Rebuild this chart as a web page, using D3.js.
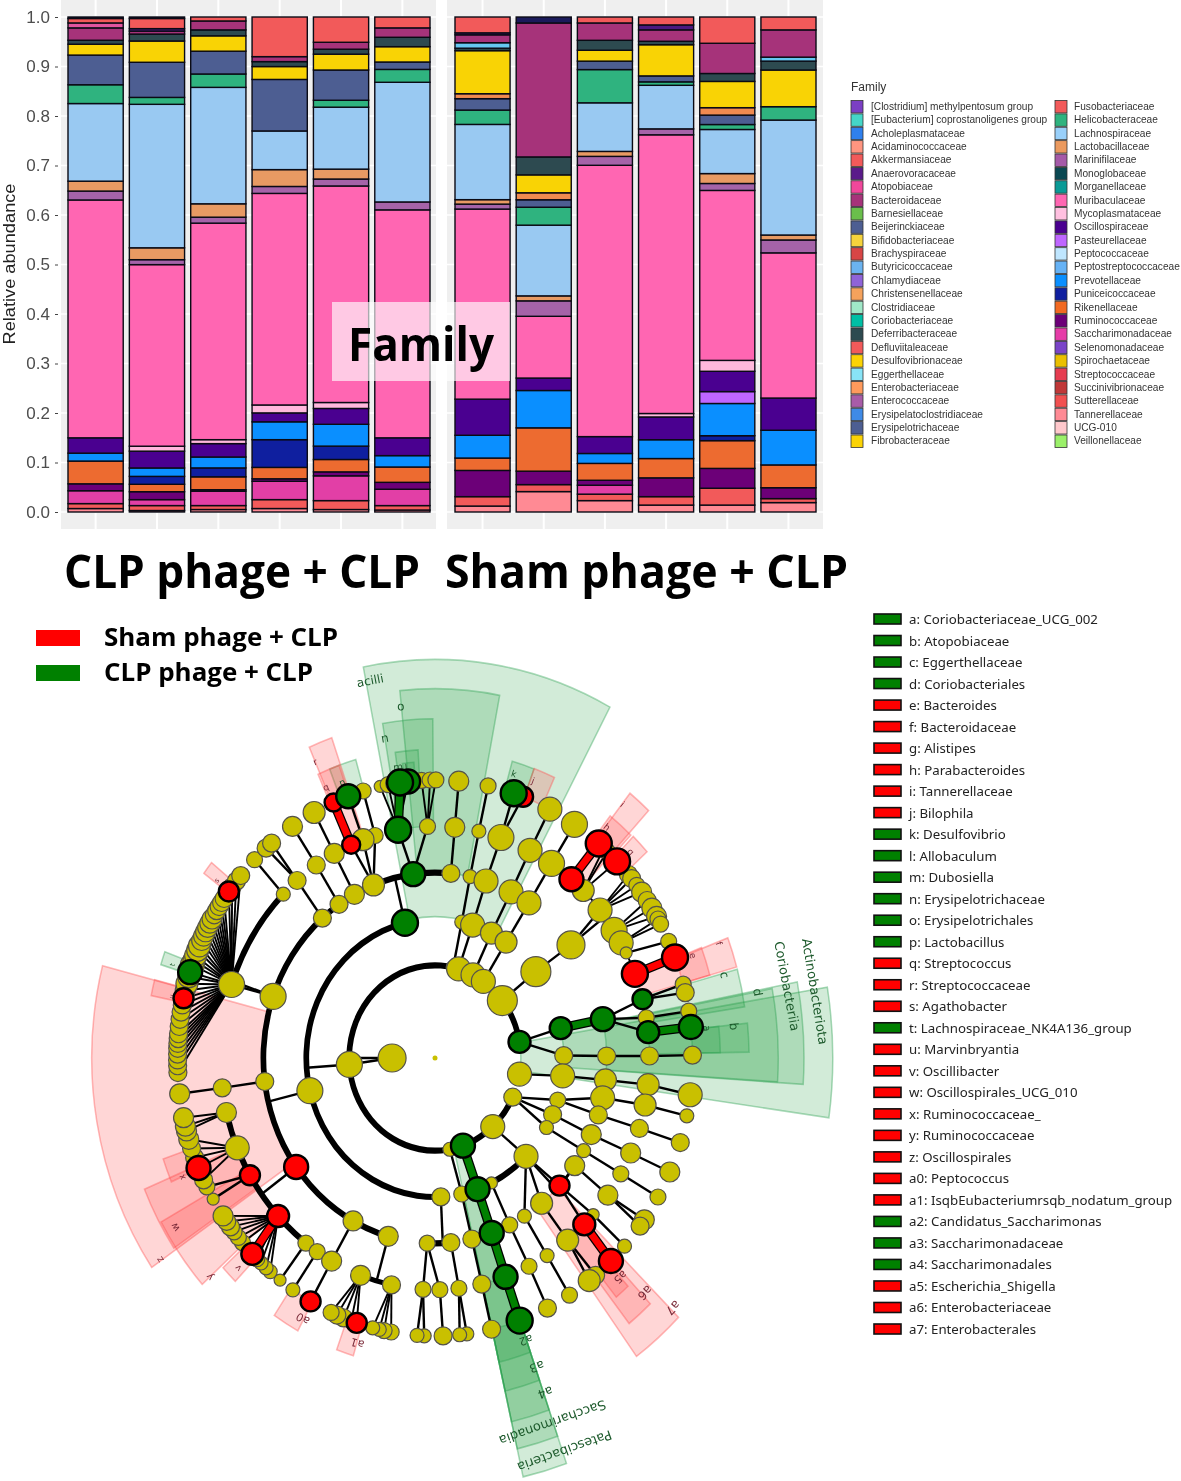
<!DOCTYPE html>
<html><head><meta charset="utf-8">
<script src="https://cdn.jsdelivr.net/npm/d3@7/dist/d3.min.js"></script>
<style>html,body{margin:0;padding:0;background:#fff}svg{display:block;filter:blur(.35px)}</style>
</head><body><svg id="c" width="1181" height="1481"></svg>
<script>
// ---------- stacked bars (first series sits on top of the stack) ----------
const samples=['C1','C2','C3','C4','C5','C6','S1','S2','S3','S4','S5','S6'];
const leftSamples=samples.slice(0,6), rightSamples=samples.slice(6);
const yTicks=[0,.1,.2,.3,.4,.5,.6,.7,.8,.9,1];
const seriesNames=['topDark','Akkermansiaceae','Anaerovoracaceae','Atopobiaceae','Bacteroidaceae','Eggerthellaceae','Deferribacteraceae','Desulfovibrionaceae','Enterobacteriaceae','Erysipelotrichaceae','Helicobacteraceae','Lachnospiraceae','Lactobacillaceae','Marinifilaceae','Muribaculaceae','Mycoplasmataceae','Oscillospiraceae','Pasteurellaceae','Prevotellaceae','Puniceicoccaceae','Rikenellaceae','Ruminococcaceae','Saccharimonadaceae','Sutterellaceae','Tannerellaceae'];
const seriesColors=['#1a1a5a','#f25a5a','#4b1a80','#e0559f','#a6337a','#66c8f2','#2d4a50','#f9d305','#f08a50','#4d5e92','#2fb37f','#99c9f2','#e89a63','#a563a8','#ff66b2','#ffb8dc','#4a0090','#bf66ff','#0a8fff','#0f1f9f','#ed6b30','#6c0078','#e23fa6','#f25a5a','#ff8a94'];
const topDark=[.003,.003,0,0,0,0,0,.012,0,0,0,0];
const akker=[.009,.0205,.008,.08,.051,.022,.032,0,.012,.016,.053,.026];
const anaero=[0,.005,0,0,0,0,.004,0,0,.01,0,0];
const atopo=[.01,0,0,0,0,0,0,0,0,0,0,0];
const bacteroid=[.025,.006,.018,.01,.014,.019,.016,.269,.035,.023,.061,.055];
const eggerth=[0,0,0,0,0,0,.011,0,0,0,0,.008];
const deferri=[.008,.014,.012,.01,.01,.019,.005,.036,.02,.007,.016,.018];
const desulfo=[.022,.043,.031,.026,.032,.031,.087,.036,.022,.063,.053,.074];
const enterob=[0,0,0,0,0,0,.01,.014,0,0,.015,0];
const erysip=[.06,.071,.046,.104,.061,.015,.023,.015,.017,.012,.019,0];
const helico=[.038,.014,.027,0,.014,.026,.029,.036,.067,.007,.01,.027];
const lachno=[.157,.29,.235,.078,.125,.242,.152,.142,.098,.088,.089,.232];
const lacto=[.02,.024,.027,.034,.02,0,.009,.01,.01,0,.02,.01];
const marini=[.018,.01,.012,.014,.014,.016,.01,.031,.018,.012,.014,.026];
const muri=[.481,.367,.437,.427,.437,.461,.384,.124,.547,.563,.343,.293];
const myco=[0,.01,.008,.016,.012,0,0,0,0,.007,.022,0];
const oscillo=[.031,.034,.027,.018,.032,.036,.073,.025,.034,.046,.041,.065];
const pasteur=[0,0,0,0,0,0,0,0,0,0,.024,0];
const prevot=[.016,.017,.022,.036,.044,.023,.046,.075,.02,.038,.065,.07];
const punicei=[0,.016,.018,.056,.027,0,0,0,0,0,.01,0];
const rikenel=[.046,.015,.026,.023,.025,.031,.025,.087,.034,.039,.056,.046];
const rumino=[.014,.016,.003,.005,.008,.014,.053,.027,.01,.038,.04,.022];
const sacchar=[.026,.012,.029,.037,.05,.033,0,0,.018,0,0,0];
const sutter=[.01,.01,.008,.018,.018,.009,.019,.014,.013,.017,.034,.008];
const tanner=[.007,.003,.005,.007,.005,.004,.012,.041,.023,.014,.014,.019];
const seriesValues=[topDark,akker,anaero,atopo,bacteroid,eggerth,deferri,desulfo,enterob,erysip,helico,lachno,lacto,marini,muri,myco,oscillo,pasteur,prevot,punicei,rikenel,rumino,sacchar,sutter,tanner];

// ---------- family legend ----------
const familyCol1=['[Clostridium] methylpentosum group','[Eubacterium] coprostanoligenes group','Acholeplasmataceae','Acidaminococcaceae','Akkermansiaceae','Anaerovoracaceae','Atopobiaceae','Bacteroidaceae','Barnesiellaceae','Beijerinckiaceae','Bifidobacteriaceae','Brachyspiraceae','Butyricicoccaceae','Chlamydiaceae','Christensenellaceae','Clostridiaceae','Coriobacteriaceae','Deferribacteraceae','Defluviitaleaceae','Desulfovibrionaceae','Eggerthellaceae','Enterobacteriaceae','Enterococcaceae','Erysipelatoclostridiaceae','Erysipelotrichaceae','Fibrobacteraceae'];
const familyCol2=['Fusobacteriaceae','Helicobacteraceae','Lachnospiraceae','Lactobacillaceae','Marinifilaceae','Monoglobaceae','Morganellaceae','Muribaculaceae','Mycoplasmataceae','Oscillospiraceae','Pasteurellaceae','Peptococcaceae','Peptostreptococcaceae','Prevotellaceae','Puniceicoccaceae','Rikenellaceae','Ruminococcaceae','Saccharimonadaceae','Selenomonadaceae','Spirochaetaceae','Streptococcaceae','Succinivibrionaceae','Sutterellaceae','Tannerellaceae','UCG-010','Veillonellaceae'];
const familyCol1Colors=['#7b3fc4','#45d6c8','#2f80ee','#ff9580','#f25a5a','#5a1a8a','#f0479b','#a6337a','#6abf4b','#4d5e92','#f5d33c','#d84545','#6bb3f0','#8f63d8','#f5a25c','#a0e8c8','#00bfa5','#2d4a50','#f25a5a','#fbd305','#88e4f7','#ff9a5c','#a85ca8','#3f8ae6','#4d5e92','#fbd305'];
const familyCol2Colors=['#f25a5a','#2fb37f','#99d0fa','#eb9a5f','#a55aa8','#0a4852','#0a9a96','#ff66b2','#ffc0e0','#4a0090','#bf66ff','#bfe6ff','#66b2f5','#0a8fff','#0f1f9f','#f26a22','#6c0078','#e63ca8','#7a44c8','#eac000','#e63c50','#c03838','#f25050','#ff8a94','#ffc8cc','#9bf06a'];

// ---------- biomarker legend ----------
const biomarkerLabels=['a: Coriobacteriaceae_UCG_002','b: Atopobiaceae','c: Eggerthellaceae','d: Coriobacteriales','e: Bacteroides','f: Bacteroidaceae','g: Alistipes','h: Parabacteroides','i: Tannerellaceae','j: Bilophila','k: Desulfovibrio','l: Allobaculum','m: Dubosiella','n: Erysipelotrichaceae','o: Erysipelotrichales','p: Lactobacillus','q: Streptococcus','r: Streptococcaceae','s: Agathobacter','t: Lachnospiraceae_NK4A136_group','u: Marvinbryantia','v: Oscillibacter','w: Oscillospirales_UCG_010','x: Ruminococcaceae_','y: Ruminococcaceae','z: Oscillospirales','a0: Peptococcus','a1: IsqbEubacteriumrsqb_nodatum_group','a2: Candidatus_Saccharimonas','a3: Saccharimonadaceae','a4: Saccharimonadales','a5: Escherichia_Shigella','a6: Enterobacteriaceae','a7: Enterobacterales'];
const biomarkerKinds=['g','g','g','g','r','r','r','r','r','r','g','g','g','g','g','g','r','r','r','g','r','r','r','r','r','r','r','r','g','g','g','r','r','r'];

// ---------- cladogram: level is the taxonomic ring, angle is degrees clockwise from north ----------
// [id, parent, level, angle, size, kind, link]; link: n thin, f fan, G/R coloured thick, '' none
const phylumNodes=[['K',null,1,270,14,'y',''],['A','K',2,266,13,'y','n'],['B1',null,2,12.2,7,'y',''],['B2',null,2,16,12,'y',''],['B3',null,2,26.3,12,'y',''],['B4',null,2,34.3,12,'y',''],['B5',null,2,51.7,15,'y',''],['B6',null,2,80,11,'g',''],['B7',null,2,100,12,'y',''],['B8',null,2,115,9,'y',''],['B9',null,2,137.7,12,'y',''],['B10',null,2,161,12,'g',''],['B11',null,2,170,7,'y','']];
const classNodes=[['C1',null,3,346.5,13,'g',''],['C2',null,3,256.4,13,'y',''],['C3',null,3,177.4,9,'y',''],['C4','B1',3,12,7,'y','n'],['C5','B2',3,17,12,'y','n'],['C6','B3',3,26,11,'y','n'],['C7','B4',3,33.5,11,'y','n'],['C8','B5',3,51.6,15,'y','n'],['C9','B6',3,77.6,11,'g','n'],['C10','B6',3,89,9,'y','n'],['C11','B7',3,97.4,12,'y','n'],['C12','B8',3,107.6,8,'y','n'],['C13','B8',3,114,9,'y','n'],['C14','B8',3,120,7,'y','n'],['C15','B9',3,135,12,'y','n'],['C16',null,3,154,6,'y',''],['C17','B10',3,160.7,12,'g','G'],['C18','B11',3,168,8,'y','n']];
const orderNodes=[['D1',null,4,352.7,12,'g',''],['D2',null,4,5.3,9,'y',''],['D3',null,4,339,11,'y',''],['D4',null,4,332,10,'y',''],['D5',null,4,326,9,'y',''],['D6',null,4,319,9,'y',''],['D7',null,4,289.4,13,'y',''],['D8',null,4,262.7,9,'y',''],['D9',null,4,234,12,'r',''],['D10',null,4,208.5,10,'y',''],['D11',null,4,195.8,10,'y',''],['D12',null,4,182.6,8,'y',''],['D13',null,4,174.7,9,'y',''],['D14','C4',4,11.8,7,'y','n'],['D15','C5',4,17.3,12,'y','n'],['D16','C6',4,26.3,12,'y','n'],['D17','C7',4,33.2,12,'y','n'],['D18','C8',4,52.4,14,'y','n'],['D19','C9',4,77.9,12,'g','G'],['D20','C10',4,89.4,9,'y','n'],['D21','C11',4,96.8,11,'y','n'],['D22','C12',4,102.4,12,'y','n'],['D23','C12',4,107.9,9,'y','n'],['D24','C13',4,114.4,10,'y','n'],['D25','C14',4,120,7,'y','n'],['D26',null,4,125.5,10,'y',''],['D27','C15',4,133.5,10,'r','n'],['D28','C15',4,141.6,11,'y','n'],['D29','C15',4,148.6,7,'y','n'],['D30','C16',4,154.2,8,'y','n'],['D31','C17',4,160.7,12,'g','G'],['D32','C18',4,167.6,9,'y','n']];
const familyNodes=[['E1','D1',5,350.1,13,'g','n'],['E2','D1',5,358,8,'y','n'],['E3','D2',5,5.3,10,'y','n'],['E4','D3',5,343.8,8,'y','n'],['E5','D3',5,340.4,11,'y','n'],['E6','D3',5,337,9,'r','n'],['E7','D4',5,332,10,'y','n'],['E8','D5',5,326.4,9,'y','n'],['E9','D6',5,320,9,'y','n'],['E10',null,5,315,7,'y',''],['E11','D7',5,288.5,13,'y','n'],['E12','D8',5,262.6,9,'y','n'],['E13',null,5,256.4,10,'y',''],['E14',null,5,247.2,12,'y',''],['E15',null,5,239.6,10,'r',''],['E16',null,5,227,11,'r',''],['E17',null,5,217,8,'y',''],['E18',null,5,213.3,8,'y',''],['E19','D10',5,208.8,10,'y','n'],['E20',null,5,200.3,10,'y',''],['E21',null,5,191.7,9,'y',''],['E22','D12',5,183.2,8,'y','n'],['E23','D12',5,178.7,8,'y','n'],['E24','D13',5,173.6,8,'y','n'],['E25','D14',5,11.8,7,'y','n'],['E26','D15',5,17.9,13,'y','n'],['E27','D16',5,26.3,12,'y','n'],['E28','D17',5,32.9,13,'y','n'],['E29',null,5,39.5,12,'r',''],['E30',null,5,43.7,11,'y',''],['E31','D18',5,50.3,12,'y','n'],['E32',null,5,56.6,13,'y',''],['E33',null,5,60.2,12,'y',''],['E34',null,5,63,6,'y',''],['E35',null,5,68.7,13,'r',''],['E36','D19',5,75.3,10,'g','n'],['E37','D19',5,80,8,'y','n'],['E38','D19',5,83.6,11,'g','n'],['E39','D20',5,89.5,9,'y','n'],['E40','D21',5,96.6,11,'y','n'],['E41','D22',5,101.7,11,'y','n'],['E42','D23',5,107.7,9,'y','n'],['E43','D24',5,114.2,10,'y','n'],['E44','D25',5,120,8,'y','n'],['E45','D26',5,126.3,10,'y','n'],['E46','D27',5,132.5,6,'y','n'],['E47','D27',5,135.9,11,'r','n'],['E48','D28',5,141.8,11,'y','n'],['E49','D29',5,148.5,7,'y','n'],['E50','D30',5,154,8,'y','n'],['E51','D31',5,160.8,12,'g','G'],['E52','D32',5,167.4,9,'y','n']];
const genusNodes=[[null,'E1',6,347.7,6,'y','f'],[null,'E1',6,349.5,8,'y','f'],[null,'E1',6,351,9,'y','f'],[null,'E1',6,354,12,'g','f'],[null,'E1',6,352.2,13,'g','G'],[null,'E2',6,357,8,'y','f'],[null,'E2',6,358.9,8,'y','f'],[null,'E2',6,.2,8,'y','f'],[null,'E3',6,5.3,10,'y','n'],[null,'E25',6,11.9,8,'y','n'],[null,'E26',6,20,10,'r','n'],[null,'E26',6,17.8,13,'g','n'],[null,'E27',6,26.5,12,'y','n'],[null,'E28',6,32.8,13,'y','n'],[null,'E29',6,39.5,13,'r','R'],[null,'E30',6,41,8,'y','f'],[null,'E30',6,42,8,'y','f'],[null,'E30',6,45,13,'r','f'],[null,'E31',6,48.7,9,'y','f'],[null,'E31',6,49.8,9,'y','f'],[null,'E31',6,51.6,8,'y','f'],[null,'E31',6,53.4,10,'y','f'],[null,'E32',6,55.5,9,'y','f'],[null,'E32',6,57.4,10,'y','f'],[null,'E32',6,59.4,10,'y','f'],[null,'E33',6,60,8,'y','f'],[null,'E33',6,61.2,8,'y','f'],[null,'E34',6,65.2,8,'y','n'],[null,'E35',6,68.8,13,'r','R'],[null,'E36',6,74.6,8,'y','n'],[null,'E36',6,76.4,9,'y','n'],[null,'E37',6,80.3,8,'y','n'],[null,'E38',6,83.6,12,'g','G'],[null,'E39',6,89.4,9,'y','n'],[null,'E40',6,97.6,12,'y','n'],[null,'E41',6,102,7,'y','n'],[null,'E42',6,107.7,9,'y','n'],[null,'E43',6,114.2,10,'y','n'],[null,'E44',6,120,8,'y','n'],[null,'E45',6,125.6,10,'y','n'],[null,'E45',6,127.2,9,'y','n'],[null,'E46',6,132.6,7,'y','n'],[null,'E47',6,136.9,12,'r','R'],[null,'E48',6,141.4,9,'y','n'],[null,'E48',6,143.2,11,'y','n'],[null,'E49',6,148.5,8,'y','n'],[null,'E50',6,154.1,9,'y','n'],[null,'E51',6,160.8,13,'g','G'],[null,'E52',6,167.3,9,'y','n'],[null,'E24',6,172.9,7,'y','n'],[null,'E24',6,174.5,7,'y','n'],[null,'E23',6,178.2,9,'y','n'],[null,'E22',6,182.4,7,'y','n'],[null,'E22',6,184,7,'y','n'],[null,'E21',6,189.8,8,'y','f'],[null,'E21',6,191.4,8,'y','f'],[null,'E21',6,192.5,7,'y','f'],[null,'E21',6,194,7,'y','f'],[null,'E20',6,197.7,10,'r','f'],[null,'E20',6,199,8,'y','f'],[null,'E20',6,200.8,9,'y','f'],[null,'E20',6,202.4,9,'y','f'],[null,'E20',6,203.8,8,'y','f'],[null,'E19',6,208.9,10,'r','n'],[null,'E18',6,213.5,7,'y','n'],[null,'E17',6,217,6,'y','n'],[null,'E16',6,219.8,7,'y','f'],[null,'E16',6,221,7,'y','f'],[null,'E16',6,222.5,7,'y','f'],[null,'E16',6,223.8,8,'y','f'],[null,'E16',6,225.2,11,'r','R'],[null,'E16',6,228.4,8,'y','f'],[null,'E16',6,229.8,8,'y','f'],[null,'E16',6,231.3,8,'y','f'],[null,'E16',6,232.6,9,'y','f'],[null,'E16',6,234,9,'y','f'],[null,'E16',6,235.4,10,'y','f'],[null,'E15',6,239.5,6,'y','n'],[null,'E15',6,242.4,8,'y','n'],[null,'E14',6,244,9,'y','f'],[null,'E14',6,246.7,12,'r','f'],[null,'E14',6,249,9,'y','f'],[null,'E14',6,251,9,'y','f'],[null,'E14',6,253,10,'y','f'],[null,'E13',6,254.8,10,'y','f'],[null,'E13',6,255.8,10,'y','f'],[null,'E13',6,257.6,10,'y','f'],[null,'E12',6,262.6,10,'y','n'],[null,'E10',6,315.5,8,'y','n'],[null,'E9',6,319,9,'y','n'],[null,'E9',6,320.6,9,'y','n'],[null,'E8',6,326.4,10,'y','n'],[null,'E7',6,332,11,'y','n'],[null,'E6',6,336.8,9,'r','R'],[null,'E5',6,340.3,12,'g','n'],[null,'E4',6,343.8,8,'y','n']];
const lachnoFanAngles=[267,268.4,269.6,270.8,272,273,274,275,276.5,278,279.5,281,284,285.5,287,289.5,290.6,291.6,292.8,293.8,295,296,297,298,299,300,301,302,303,304,305,308,309.5,311];
const lachnoFanSizes=[9,9,9,9,9,9,9,9,9,9,9,9,10,11,11,12,11,11,11,11,10,10,10,10,10,10,9,9,9,9,9,9,9,9];
const lachnoFanMarked=[[282.4,10,'r'],[288,12,'g'],[306.8,10,'r']];
// [level, start angle, end angle, stroke width]
const ringArcs=[[2,266,440,6],[2,115,266,6],[3,177.4,346.5,6],[3,135,154,6],[4,195.8,319,6],[4,319,365.3,6],[4,174.7,182.6,6],[4,125.5,133.5,3],[5,208.8,256.4,6],[5,288.5,315,6],[5,39.5,68.7,2],[5,191.7,200.3,5]];
// [node id, level reached by its radial stub]
const radialStubs=[['K',2],['A',3],['C1',4],['C2',4],['C3',4],['C15',4],['D9',5],['D11',5],['D18',5],['D7',5]];
// [label, start, end, inner level, outer level, kind, label level, label angle, font size]
const cladeSectors=[
['acilli',348.8,388.3,3.05,8.6,'g',8.28,349.5,12],['o',354.1,370.9,4,7.97,'g',7.63,354,12],['n',350.4,359.6,5,7.32,'g',7,350.4,12],['m',352,356.6,6,6.66,'g',6.34,352.2,10],['l',353.2,355.6,6,6.4,'g',6.3,353.9,9],
['p',338.5,344,6.05,6.7,'g',6.33,340,9],['q',336,340.5,6,6.7,'r',6.37,336.5,9],['r',336.4,340.8,5,7.32,'r',6.97,336.4,9],
['k',15.7,20.3,5.95,6.65,'g',6.4,16.7,9],['j',20.3,24.7,6,6.66,'r',6.4,20.9,9],
['i',38.5,43,5,7.3,'r',7,38.6,9],['h',38,43.5,6,6.63,'r',6.39,38.8,9],['g',44,48,6.1,6.65,'r',6.37,45.7,9],
['f',69.2,74.4,5,7.3,'r',7.06,69.5,9],['e',69,74.4,6,6.65,'r',6.4,69.8,9],
['Actinobacteriota',80.5,98,2,9.27,'g',8.97,80.8,13],['Coriobacteriia',79,93.8,3,8.6,'g',8.35,79.3,13],['d',79.2,93.7,4,8,'g',7.65,79.3,12],['c',74.8,81.3,5,7.3,'g',6.98,75.1,12],['b',84.1,89,5,7.32,'g',7,84.4,12],['a',84.1,89,6,6.65,'g',6.37,84.2,10],
['Patescibacteria',160.7,167.2,2.2,9.27,'g',9,160.4,13],['Saccharimonadia',160.7,167.2,3,8.65,'g',8.33,160.8,13],['a4',160.7,167.2,4,8.05,'g',7.66,160.4,12],['a3',160.7,167.2,5,7.37,'g',7.07,160.4,12],['a2',160.7,167.2,6,6.73,'g',6.44,160.8,11],
['a7',134.6,143.9,4,7.97,'r',7.73,134.2,12],['a6',136.6,141.7,5,7.3,'r',7.04,136,12],['a5',137.6,140.7,6,6.67,'r',6.4,137.6,11],
['z',235.6,284.4,4,8,'r',7.75,235.8,10],['y',228,241,5,7.3,'r',7.07,228,10],['w',236,247.3,5,7.34,'r',7.07,238.9,10],['x',246.5,251,6,6.7,'r',6.43,246.4,9],['v',224,227.5,6,6.7,'r',6.45,225.3,9],
['a0',208.5,214,6,6.7,'r',6.41,208.7,11],['a1',196.5,200,6,6.7,'r',6.41,196.4,11],['u',281.5,284.5,6,6.75,'r',6.27,282.2,7],['t',287.5,290,6,6.7,'g',6.43,288.2,7],['s',306.5,309,6.05,6.7,'r',6.36,307,7]];

// ---------- headings ----------
const panelHeadings=['CLP phage + CLP','Sham phage + CLP'];
const groupLegend=[['Sham phage + CLP','r'],['CLP phage + CLP','g']];

const svg=d3.select('#c');
const kindFill={y:'#c9c000',g:'#008000',r:'#ff0000'};

// ---------- bar panels ----------
const yScale=d3.scaleLinear().domain([0,1]).range([512,17]);
const stackRows=samples.map((s,i)=>{const r={sample:s};seriesNames.forEach((n,j)=>r[n]=seriesValues[j][i]);return r;});
const stacked=d3.stack().keys(seriesNames.slice().reverse()).offset(d3.stackOffsetExpand)(stackRows);
function panel(list,x0,x1,bandRange){
  const g=svg.append('g');
  g.append('rect').attr('x',x0).attr('y',0).attr('width',x1-x0).attr('height',529).attr('fill','#efefef');
  const x=d3.scaleBand().domain(list).range(bandRange).paddingInner(.1);
  yTicks.forEach(t=>g.append('line').attr('x1',x0).attr('x2',x1).attr('y1',yScale(t)).attr('y2',yScale(t)).attr('stroke','#fff').attr('stroke-width',1.4));
  list.forEach(s=>g.append('line').attr('x1',x(s)+x.bandwidth()/2).attr('x2',x(s)+x.bandwidth()/2).attr('y1',0).attr('y2',529).attr('stroke','#fff').attr('stroke-width',2));
  stacked.forEach(layer=>{
    const i=seriesNames.indexOf(layer.key);
    g.selectAll(null).data(layer.filter(d=>list.includes(d.data.sample)&&d[1]-d[0]>0)).join('rect')
      .attr('x',d=>x(d.data.sample)).attr('width',x.bandwidth())
      .attr('y',d=>yScale(d[1])).attr('height',d=>yScale(d[0])-yScale(d[1]))
      .attr('fill',seriesColors[i]).attr('stroke','#0a0a14').attr('stroke-width',1.4);
  });
}
panel(leftSamples,61,436,[68,430]);
panel(rightSamples,447,823,[455,816]);
const yAxis=svg.append('g').attr('transform','translate(58,0)').call(d3.axisLeft(yScale).tickValues(yTicks).tickFormat(d3.format('.1f')).tickSize(3).tickPadding(5));
yAxis.select('.domain').remove();
yAxis.selectAll('text').attr('font-family','Liberation Sans').attr('font-size',17).attr('fill','#4d4d4d');
yAxis.selectAll('line').attr('stroke','#444');
svg.append('text').attr('transform','translate(15,264) rotate(-90)').attr('text-anchor','middle').attr('font-family','Liberation Sans').attr('font-size',17).attr('textLength',161).attr('lengthAdjust','spacingAndGlyphs').attr('fill','#222').text('Relative abundance');

// Family overlay and headings
svg.append('rect').attr('x',332).attr('y',302).attr('width',178).attr('height',79).attr('fill','#fff').attr('fill-opacity',.65);
svg.append('text').attr('x',421).attr('y',361).attr('text-anchor','middle').attr('font-family','Open Sans').attr('font-weight',700).attr('font-size',46).attr('textLength',146).attr('lengthAdjust','spacingAndGlyphs').text('Family');
[[64,356],[445,403]].forEach((p,i)=>svg.append('text').attr('x',p[0]).attr('y',588).attr('font-family','Open Sans').attr('font-weight',700).attr('font-size',46).attr('textLength',p[1]).attr('lengthAdjust','spacingAndGlyphs').text(panelHeadings[i]));

// Family legend
svg.append('text').attr('x',851).attr('y',91).attr('font-family','Liberation Sans').attr('font-size',12).attr('fill','#333').text('Family');
const rowY=d3.scalePoint().domain(d3.range(26)).range([106.5,441]);
[[familyCol1,familyCol1Colors,851,871],[familyCol2,familyCol2Colors,1055,1074]].forEach(([names,cols,sx,tx])=>{
  names.forEach((n,i)=>{
    svg.append('rect').attr('x',sx).attr('y',rowY(i)-6).attr('width',12).attr('height',12.4).attr('fill',cols[i]).attr('stroke','#333').attr('stroke-width',.8);
    svg.append('text').attr('x',tx).attr('y',rowY(i)+3.4).attr('font-family','Liberation Sans').attr('font-size',10.15).attr('fill','#333').text(n);
  });
});

// Group legend
groupLegend.forEach((d,i)=>{
  const y=d3.scalePoint().domain([0,1]).range([638,673])(i);
  svg.append('rect').attr('x',36).attr('y',y-8).attr('width',44).attr('height',16).attr('fill',kindFill[d[1]]);
  svg.append('text').attr('x',104).attr('y',y+8).attr('font-family','Open Sans').attr('font-weight',700).attr('font-size',25).attr('textLength',i?209:234).attr('lengthAdjust','spacingAndGlyphs').text(d[0]);
});

// Biomarker legend
const bioY=d3.scalePoint().domain(d3.range(biomarkerLabels.length)).range([619,1329]);
biomarkerLabels.forEach((t,i)=>{
  svg.append('rect').attr('x',874).attr('y',bioY(i)-5).attr('width',27).attr('height',10).attr('fill',kindFill[biomarkerKinds[i]]).attr('stroke','#111').attr('stroke-width',1.6);
  svg.append('text').attr('x',909).attr('y',bioY(i)+5).attr('font-family','Noto Sans').attr('font-size',13.25).attr('fill','#222').text(t);
});

// ---------- cladogram ----------
const cx=435,cy=1058,stretchX=.95,stretchY=1.026;
const ring=d3.scaleLinear().domain([0,6]).range([0,271]);
const rad=d3.scaleLinear().domain([0,360]).range([0,2*Math.PI]);
const pos=(level,angle)=>{const p=d3.pointRadial(rad(angle),ring(level));return [cx+p[0]*stretchX,cy+p[1]*stretchY];};
const fanNodes=[...lachnoFanAngles.map((a,i)=>[null,'E11',6,a,lachnoFanSizes[i],'y','f']),...lachnoFanMarked.map(m=>[null,'E11',6,m[0],m[1],m[2],'f'])];
const allNodes=[...phylumNodes,...classNodes,...orderNodes,...familyNodes,...genusNodes,...fanNodes];
const byId=new Map(allNodes.filter(n=>n[0]).map(n=>[n[0],n]));

const polar=svg.append('g').attr('transform',`translate(${cx},${cy}) scale(${stretchX},${stretchY})`);
const sectorArc=d3.arc();
polar.selectAll('.sector').data(cladeSectors).join('path').attr('class','sector')
  .attr('d',d=>sectorArc({innerRadius:ring(d[3]),outerRadius:ring(d[4]),startAngle:rad(d[1]),endAngle:rad(d[2])}))
  .attr('fill',d=>d[5]==='g'?'#1f9a3c':'#ff3030').attr('fill-opacity',.2)
  .attr('stroke',d=>d[5]==='g'?'#2aa050':'#ff5050').attr('stroke-opacity',.4).attr('stroke-width',1.6);

svg.selectAll('.slabel').data(cladeSectors).join('text').attr('class','slabel')
  .attr('transform',d=>{const p=pos(d[6],d[7]);return `translate(${p[0]},${p[1]}) rotate(${d[7]})`;})
  .attr('text-anchor','middle').attr('dominant-baseline','central').attr('font-family','DejaVu Sans').attr('font-size',d=>d[8])
  .attr('fill',d=>d[5]==='g'?'#1d5a2c':'#7a2a38').text(d=>d[0]);

polar.selectAll('.ring').data(ringArcs).join('path').attr('class','ring')
  .attr('d',d=>sectorArc({innerRadius:ring(d[0])-d[3]/2,outerRadius:ring(d[0])+d[3]/2,startAngle:rad(d[1]),endAngle:rad(d[2])}))
  .attr('fill','#000');

const links=svg.append('g');
radialStubs.forEach(([id,lv])=>{
  const n=byId.get(id),a=pos(n[2],n[3]),b=pos(lv,n[3]);
  links.append('line').attr('x1',a[0]).attr('y1',a[1]).attr('x2',b[0]).attr('y2',b[1]).attr('stroke','#000').attr('stroke-width',2.4);
});
const linkStyle={n:['#000',2.4],f:['#000',1.9],G:['#008000',7],R:['#ff0000',7]};
allNodes.filter(n=>n[1]&&n[6]).forEach(n=>{
  const p=byId.get(n[1]),a=pos(p[2],p[3]),b=pos(n[2],n[3]),s=linkStyle[n[6]];
  if(n[6]==='G'||n[6]==='R') links.append('line').attr('x1',a[0]).attr('y1',a[1]).attr('x2',b[0]).attr('y2',b[1]).attr('stroke','#000').attr('stroke-width',9.5);
  links.append('line').attr('x1',a[0]).attr('y1',a[1]).attr('x2',b[0]).attr('y2',b[1]).attr('stroke',s[0]).attr('stroke-width',s[1]);
});
const ordered=allNodes.slice().sort((a,b)=>(a[5]==='y'?0:1)-(b[5]==='y'?0:1));
svg.selectAll('.node').data(ordered).join('circle').attr('class','node')
  .attr('cx',d=>pos(d[2],d[3])[0]).attr('cy',d=>pos(d[2],d[3])[1]).attr('r',d=>d[4])
  .attr('fill',d=>kindFill[d[5]])
  .attr('stroke',d=>d[5]==='y'?'#55534a':'#000').attr('stroke-width',d=>d[5]==='y'?1.2:2.4);
const originDot=pos(0,0);
svg.append('circle').attr('cx',originDot[0]).attr('cy',originDot[1]).attr('r',2.5).attr('fill',kindFill.y);
</script></body></html>
